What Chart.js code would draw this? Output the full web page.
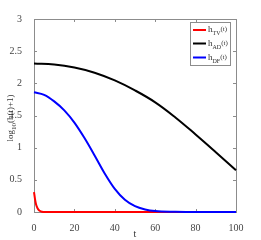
<!DOCTYPE html>
<html><head><meta charset="utf-8">
<script src="https://cdn.jsdelivr.net/npm/chart.js@4"></script>
<style>html,body{margin:0;padding:0;background:#fff}#wrap{width:261px;height:240px}</style>
</head><body><div id="wrap"><canvas id="c" width="261" height="240"></canvas></div>
<script>
const tTV = [0,0.5,1,1.5,2,3,4,5,100];
const hTV = [0.31,0.20,0.12,0.075,0.045,0.015,0.004,0,0];
const tAD = [0,10,20,30,40,50,60,70,80,90,100];
const hAD = [2.31,2.293,2.245,2.165,2.045,1.89,1.705,1.47,1.205,0.93,0.65];
const tDF = [0,5,10,15,20,25,30,35,40,45,50,55,60,70,80,100];
const hDF = [1.86,1.82,1.72,1.58,1.39,1.15,0.88,0.60,0.36,0.19,0.09,0.04,0.015,0.004,0,0];
const xTicks = [0,20,40,60,80,100];
const yTicks = [0,0.5,1,1.5,2,2.5,3];
const seriesNames = [['h','TV','(t)'],['h','AD','(t)'],['h','DF','(t)']];
const seriesColors = ['#ff0000','#000000','#0000ff'];

const pts = (ts, hs) => ts.map((t,i)=>({x:t,y:hs[i]}));
const SERIF = '"Liberation Serif","DejaVu Serif",serif';

const decor = {
  id:'decor',
  beforeDatasetsDraw(chart){
    const {ctx, chartArea:a, scales:{x,y}} = chart;
    ctx.save();
    ctx.strokeStyle = '#8c8c8c';
    ctx.lineWidth = 1;
    ctx.strokeRect(Math.round(a.left)+0.5, Math.round(a.top)+0.5, Math.round(a.right-a.left), Math.round(a.bottom-a.top));
    ctx.beginPath();
    const L=3;
    xTicks.forEach(v=>{const p=Math.round(x.getPixelForValue(v))+0.5;
      ctx.moveTo(p,a.bottom);ctx.lineTo(p,a.bottom-L);ctx.moveTo(p,a.top);ctx.lineTo(p,a.top+L);});
    yTicks.forEach(v=>{const p=Math.round(y.getPixelForValue(v))+0.5;
      ctx.moveTo(a.left,p);ctx.lineTo(a.left+L,p);ctx.moveTo(a.right,p);ctx.lineTo(a.right-L,p);});
    ctx.stroke();
    ctx.restore();
  },
  afterDraw(chart){
    const {ctx} = chart;
    ctx.save();
    // y title
    ctx.fillStyle='#333';
    ctx.translate(10,118);
    ctx.rotate(-Math.PI/2);
    ctx.textBaseline='alphabetic';
    const f1='9px '+SERIF, f2='7px '+SERIF;
    ctx.font=f1; const w1=ctx.measureText('log').width;
    ctx.font=f2; const w2=ctx.measureText('10').width;
    ctx.font=f1; const w3=ctx.measureText('(h(t)+1)').width;
    let sx=-(w1+w2+w3)/2;
    ctx.font=f1; ctx.fillText('log',sx,3); sx+=w1;
    ctx.font=f2; ctx.fillText('10',sx,6); sx+=w2;
    ctx.font=f1; ctx.fillText('(h(t)+1)',sx,3);
    ctx.restore();
    // legend
    ctx.save();
    ctx.fillStyle='#fff';
    ctx.fillRect(191,22,40,43);
    ctx.strokeStyle='#8c8c8c';ctx.lineWidth=1;
    ctx.strokeRect(190.5,22.5,40,43);
    const rows=[30,43.5,57.5];
    rows.forEach((ry,i)=>{
      ctx.strokeStyle=seriesColors[i];ctx.lineWidth=2;
      ctx.beginPath();ctx.moveTo(193,ry);ctx.lineTo(206,ry);ctx.stroke();
      ctx.fillStyle='#333';ctx.textBaseline='alphabetic';
      let tx=208;
      ctx.font='9px '+SERIF; ctx.fillText(seriesNames[i][0],tx,ry+2); tx+=ctx.measureText(seriesNames[i][0]).width;
      ctx.font='6px '+SERIF; ctx.fillText(seriesNames[i][1],tx,ry+5); tx+=ctx.measureText(seriesNames[i][1]).width;
      ctx.font='7px '+SERIF; ctx.fillText(seriesNames[i][2],tx,ry+1);
    });
    ctx.restore();
  }
};

new Chart(document.getElementById('c'),{
  type:'line',
  data:{datasets:[
    {data:pts(tTV,hTV),borderColor:seriesColors[0],borderWidth:2,pointRadius:0,cubicInterpolationMode:'monotone',order:3,clip:3},
    {data:pts(tAD,hAD),borderColor:seriesColors[1],borderWidth:2,pointRadius:0,tension:0.4,order:2,clip:3},
    {data:pts(tDF,hDF),borderColor:seriesColors[2],borderWidth:2,pointRadius:0,cubicInterpolationMode:'monotone',order:1,clip:3}
  ]},
  options:{
    responsive:false,animation:false,
    layout:{padding:{left:0,right:25,top:19,bottom:0}},
    plugins:{legend:{display:false},tooltip:{enabled:false}},
    scales:{
      x:{type:'linear',min:0,max:100,
        grid:{display:false},border:{display:false},
        afterBuildTicks:s=>{s.ticks=xTicks.map(v=>({value:v}));},
        afterFit:s=>{s.height=28;},
        ticks:{color:'#444',font:{family:SERIF,size:10},padding:2,maxRotation:0,callback:v=>String(v)},
        title:{display:true,text:'t',color:'#333',font:{family:SERIF,size:10},padding:{top:0,bottom:0}}
      },
      y:{type:'linear',min:0,max:3,
        grid:{display:false},border:{display:false},
        afterBuildTicks:s=>{s.ticks=yTicks.map(v=>({value:v}));},
        afterFit:s=>{s.width=34;},
        ticks:{color:'#444',font:{family:SERIF,size:10},padding:4,callback:v=>String(v)}
      }
    }
  },
  plugins:[decor]
});
</script></body></html>
